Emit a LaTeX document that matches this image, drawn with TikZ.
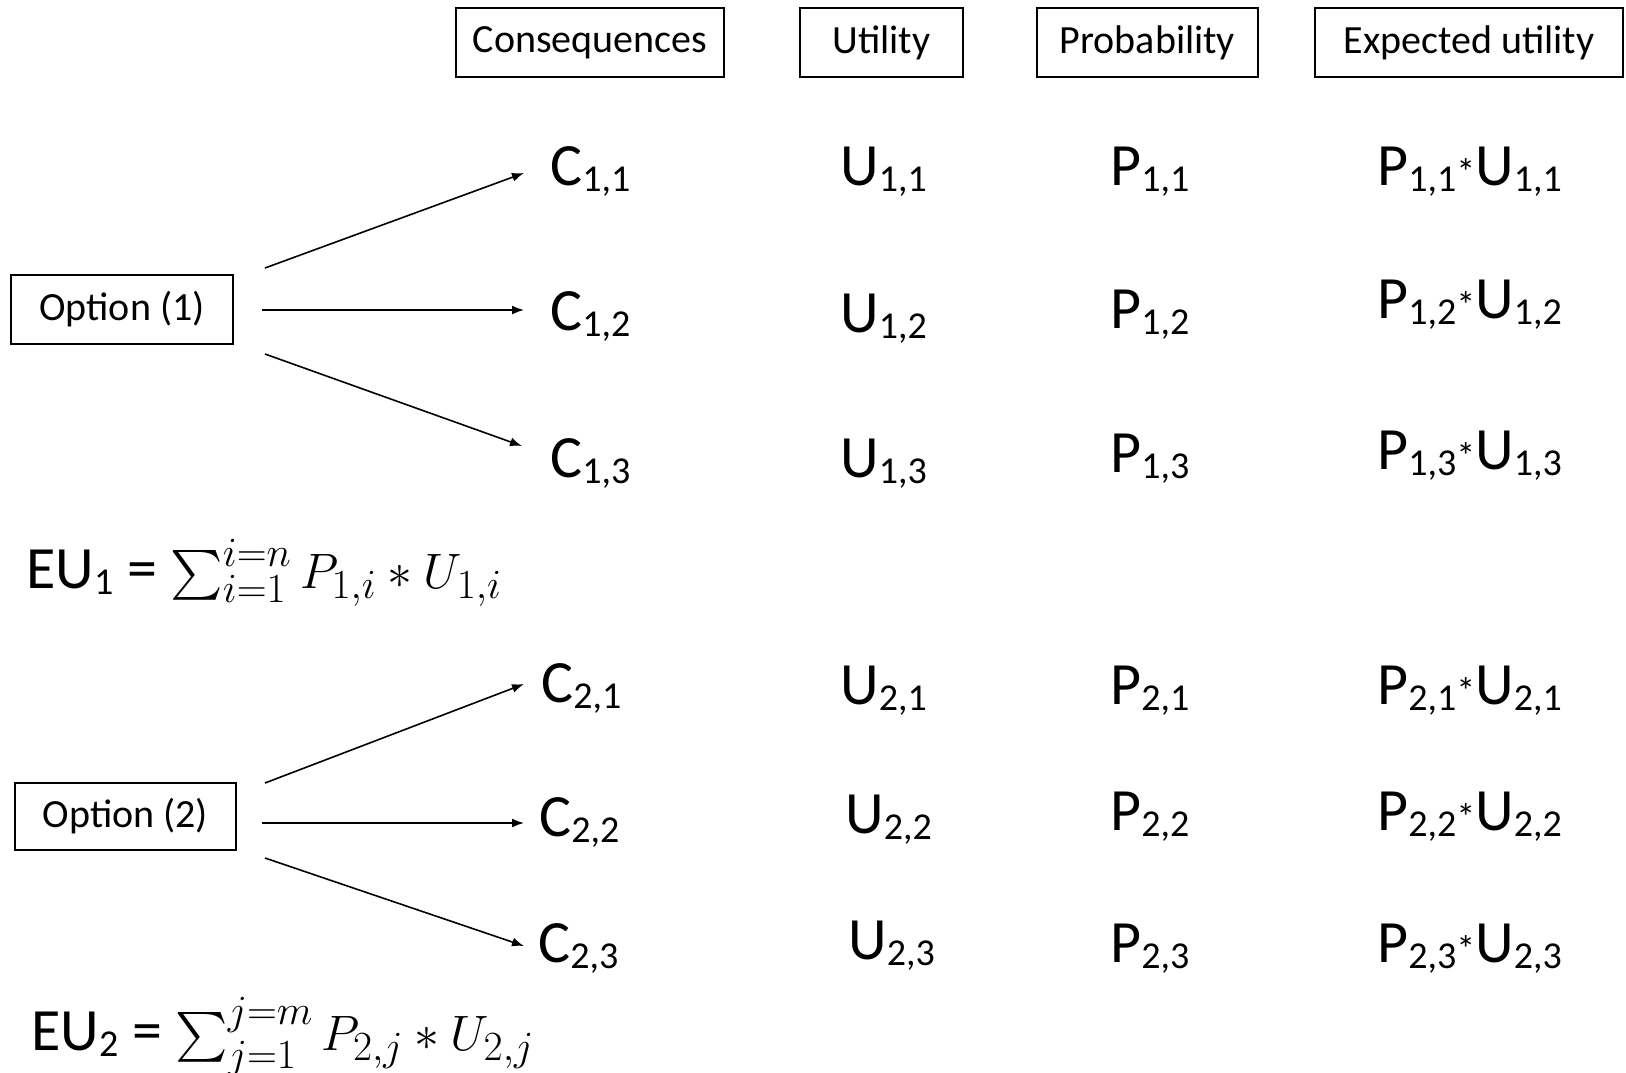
\documentclass[tikz,border=0pt]{standalone}
\usepackage{exscale}
\usepackage{fontspec}
\setmainfont{Carlito}
\usetikzlibrary{arrows.meta}
\newcommand\sbx[1]{\raisebox{-3pt}{\fontsize{19}{19}\selectfont #1}}
\newcommand\astk{{\fontsize{19}{19}\selectfont *}}
\begin{document}
\begin{tikzpicture}[x=0.5pt,y=-0.5pt,
 hdr/.style={draw,line width=1pt,font=\fontsize{20}{24}\selectfont,minimum height=34.5pt,inner sep=0pt},
 big/.style={anchor=base west,inner sep=0pt,font=\fontsize{30}{36}\selectfont},
 arr/.style={-{Latex[length=6pt,width=4.5pt]},line width=0.8pt}]
\useasboundingbox[fill=white] (0,0) rectangle (1626,1072);
% headers
\node[hdr,minimum width=134pt] (hc) at (590,42.5) {Consequences};
\node[hdr,minimum width=81.5pt] (hu) at (881.5,42.5) {Utility};
\node[hdr,minimum width=110.5pt] (hp) at (1147.5,42.5) {Probability};
\node[hdr,minimum width=154pt] (he) at (1469,42.5) {Expected utility};
\node[hdr,minimum width=111pt] (o1) at (122,309) {Option (1)};
\node[hdr,minimum width=110.5pt,minimum height=33.5pt] (o2) at (125.5,816.5) {Option (2)};
% option 1 rows
\node[big] (c11) at (550,185) {C\sbx{1,1}};
\node[big] (c12) at (550,330) {C\sbx{1,2}};
\node[big] (c13) at (550,477) {C\sbx{1,3}};
\node[big] (u11) at (840,185) {U\sbx{1,1}};
\node[big] (u12) at (840,332) {U\sbx{1,2}};
\node[big] (u13) at (840,477) {U\sbx{1,3}};
\node[big] (p11) at (1110,185) {P\sbx{1,1}};
\node[big] (p12) at (1110,328) {P\sbx{1,2}};
\node[big] (p13) at (1110,472) {P\sbx{1,3}};
\node[big] (e11) at (1377,185) {P\sbx{1,1}\astk U\sbx{1,1}};
\node[big] (e12) at (1377,318) {P\sbx{1,2}\astk U\sbx{1,2}};
\node[big] (e13) at (1377,469) {P\sbx{1,3}\astk U\sbx{1,3}};
% option 2 rows
\node[big] (c21) at (541,702) {C\sbx{2,1}};
\node[big] (c22) at (539,836) {C\sbx{2,2}};
\node[big] (c23) at (538,962) {C\sbx{2,3}};
\node[big] (u21) at (840,704) {U\sbx{2,1}};
\node[big] (u22) at (845,833) {U\sbx{2,2}};
\node[big] (u23) at (848,959) {U\sbx{2,3}};
\node[big] (p21) at (1110,704) {P\sbx{2,1}};
\node[big] (p22) at (1110,830) {P\sbx{2,2}};
\node[big] (p23) at (1110,962) {P\sbx{2,3}};
\node[big] (e21) at (1377,704) {P\sbx{2,1}\astk U\sbx{2,1}};
\node[big] (e22) at (1377,830) {P\sbx{2,2}\astk U\sbx{2,2}};
\node[big] (e23) at (1377,962) {P\sbx{2,3}\astk U\sbx{2,3}};
% formulas
\node[big] (eu1) at (26,588) {EU\sbx{1} = $\sum_{i=1}^{i=n} P_{1,i} * U_{1,i}$};
\node[big] (eu2) at (31,1050) {EU\sbx{2} = $\sum_{j=1}^{j=m} P_{2,j} * U_{2,j}$};
% arrows
\coordinate (s11) at (265,268); \coordinate (t11) at (524,173);
\coordinate (s12) at (262,310); \coordinate (t12) at (524,310);
\coordinate (s13) at (265,354); \coordinate (t13) at (522,446);
\coordinate (s21) at (265,783); \coordinate (t21) at (524,684);
\coordinate (s22) at (262,823); \coordinate (t22) at (524,823);
\coordinate (s23) at (265,858); \coordinate (t23) at (524,946);
\draw[arr] (s11) -- (t11);
\draw[arr] (s12) -- (t12);
\draw[arr] (s13) -- (t13);
\draw[arr] (s21) -- (t21);
\draw[arr] (s22) -- (t22);
\draw[arr] (s23) -- (t23);
\end{tikzpicture}
\end{document}
